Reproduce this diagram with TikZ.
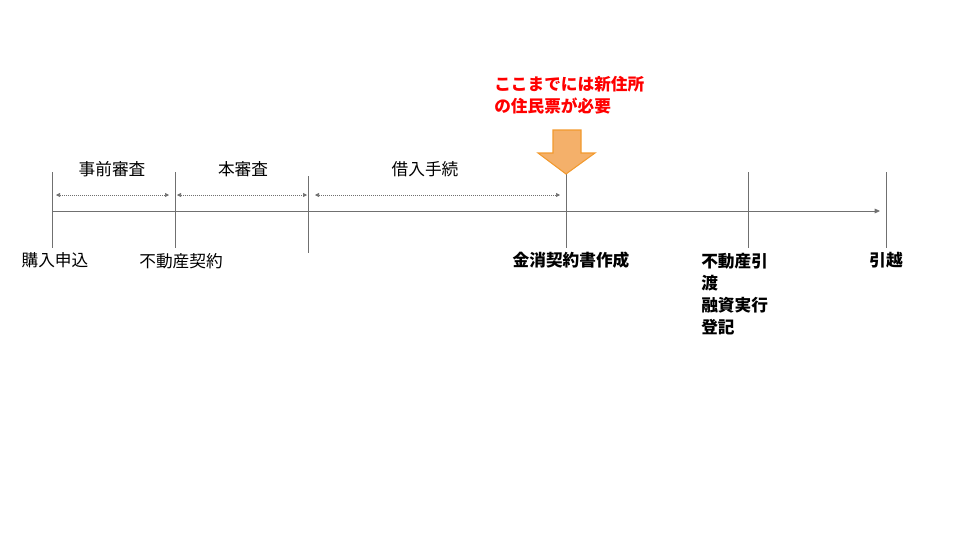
\documentclass[tikz,border=0pt]{standalone}
\usepackage{fontspec}
\setmainfont{Noto Sans CJK JP}
\usetikzlibrary{arrows.meta}
\definecolor{ln}{HTML}{707070}
\definecolor{arrfill}{HTML}{F4B06A}
\definecolor{arrdraw}{HTML}{F29A2E}
\tikzset{
 tick/.style={draw=ln,line width=0.6pt},
 span/.style={draw=ln,densely dotted,line width=0.5pt,{Triangle[length=3pt,width=3pt]}-{Triangle[length=3pt,width=3pt]}},
 lab/.style={font=\fontsize{12.5}{14}\selectfont,inner sep=0pt},
 blab/.style={lab,font=\fontsize{12.5}{16}\selectfont\bfseries},
}
\begin{document}
\begin{tikzpicture}[x=0.75pt,y=-0.75pt]
\useasboundingbox (0,0) rectangle (960,540);
\foreach \n/\x/\a/\b in {t1/52/172/248,t2/175/172/248,t3/308/176/253,t4/566/172/248,t5/748/172/248,t6/886/172/248}{
  \coordinate (\n a) at (\x,\a); \coordinate (\n b) at (\x,\b);
  \draw[tick] (\n a) -- (\n b);}
\coordinate (ms) at (52,211); \coordinate (me) at (880,211);
\draw[draw=ln,line width=0.6pt,-{Triangle[length=4pt,width=3.5pt]}] (ms) -- (me);
\coordinate (d1a) at (56,195); \coordinate (d1b) at (169,195);
\coordinate (d2a) at (177,195); \coordinate (d2b) at (307,195);
\coordinate (d3a) at (315,195); \coordinate (d3b) at (560,195);
\draw[span] (d1a) -- (d1b); \draw[span] (d2a) -- (d2b); \draw[span] (d3a) -- (d3b);
\node[lab] (s1) at (112,169) {事前審査};
\node[lab] (s2) at (243,169) {本審査};
\node[lab] (s3) at (425,169) {借入手続};
\node[lab] (b1) at (55,260) {購入申込};
\node[lab] (b2) at (181,261) {不動産契約};
\node[blab] (b3) at (571,260) {金消契約書作成};
\node[blab,anchor=north west,align=left,font=\fontsize{12.5}{16.5}\selectfont\bfseries] (b4) at (701,253) {不動産引\\渡\\融資実行\\登記};
\node[blab] (b5) at (886,260) {引越};
\node[blab,text=red,anchor=north west,align=left,font=\fontsize{12.5}{16.5}\selectfont\bfseries] (note) at (494,76) {ここまでには新住所\\の住民票が必要};
\draw[fill=arrfill,draw=arrdraw,line width=0.8pt] (553,130) -- (581,130) -- (581,153) -- (595,153) -- (566,174) -- (538,153) -- (553,153) -- cycle;
\end{tikzpicture}
\end{document}
